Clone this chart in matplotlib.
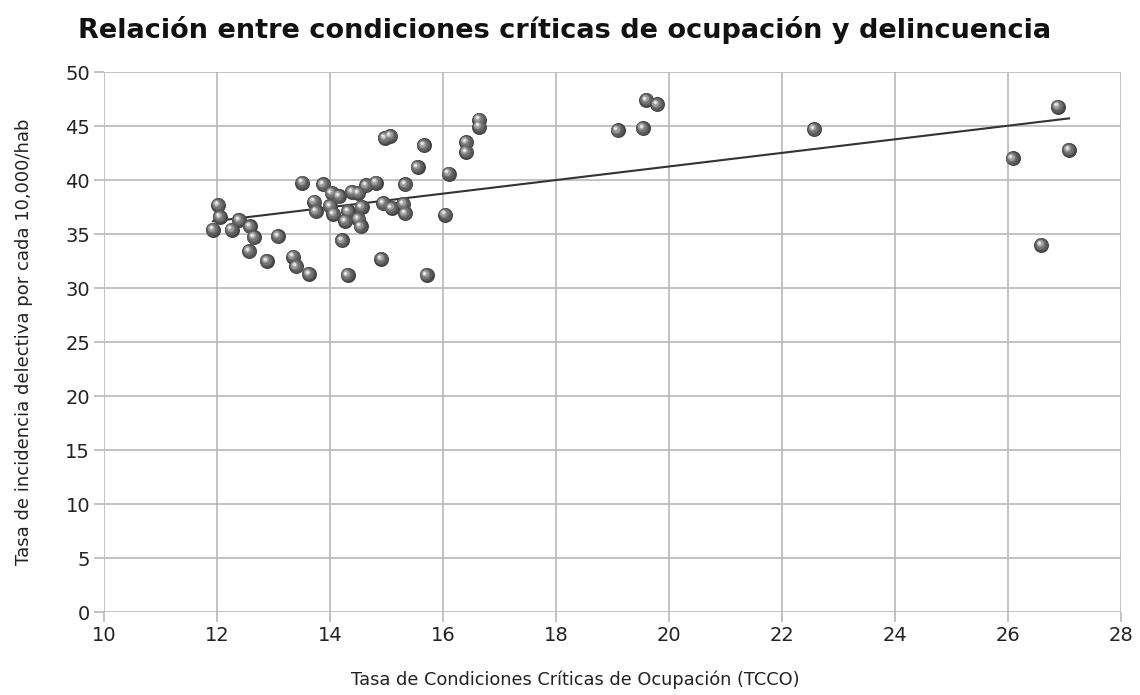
import numpy as np
import matplotlib
matplotlib.use("Agg")
import matplotlib.pyplot as plt
from matplotlib.transforms import offset_copy

# ---- data ----
tcco = [11.93, 12.02, 12.05, 12.26, 12.39, 12.58, 12.65, 12.57, 13.08, 12.88,
        13.35, 13.40, 13.63, 13.51, 13.88, 14.03, 14.16, 14.39, 14.50, 14.64,
        14.81, 15.33, 13.72, 13.75, 14.00, 14.06, 14.32, 14.27, 14.56, 14.50,
        14.54, 14.94, 15.09, 15.30, 15.33, 14.21, 14.91, 14.31, 15.71, 16.04,
        16.10, 15.55, 16.41, 16.41, 15.66, 14.97, 15.07, 16.64, 16.64, 19.09,
        19.54, 19.60, 19.79, 22.57, 26.08, 26.88, 27.08, 26.59]
incidencia = [35.4, 37.7, 36.6, 35.4, 36.3, 35.7, 34.7, 33.4, 34.8, 32.5,
              32.9, 32.0, 31.3, 39.75, 39.6, 38.8, 38.5, 38.9, 38.8, 39.5,
              39.75, 39.6, 38.0, 37.1, 37.6, 36.85, 37.1, 36.2, 37.5, 36.4,
              35.7, 37.85, 37.4, 37.8, 36.9, 34.4, 32.7, 31.2, 31.2, 36.8,
              40.6, 41.2, 43.5, 42.6, 43.2, 43.9, 44.1, 45.6, 44.95, 44.6,
              44.8, 47.4, 47.0, 44.7, 42.0, 46.8, 42.8, 34.0]
x_ticks = [10, 12, 14, 16, 18, 20, 22, 24, 26, 28]
y_ticks = [0, 5, 10, 15, 20, 25, 30, 35, 40, 45, 50]

title = "Relación entre condiciones críticas de ocupación y delincuencia"
xlabel = "Tasa de Condiciones Críticas de Ocupación (TCCO)"
ylabel = "Tasa de incidencia delectiva por cada 10,000/hab"

plt.rcParams['font.family'] = ['DejaVu Sans']

fig = plt.figure(figsize=(11.4, 6.95), dpi=100)
ax = fig.add_axes([104/1140, 1-612/695, (1121-104)/1140, (612-72)/695])

ax.set_xlim(10, 28)
ax.set_ylim(0, 50)
ax.set_xticks(x_ticks)
ax.set_yticks(y_ticks)
for s in ax.spines.values():
    s.set_visible(False)
ax.grid(True, color='#b8b8b8', linewidth=1.2)
ax.set_axisbelow(True)
ax.tick_params(axis='both', colors='#b8b8b8', length=7, width=1.2,
               labelcolor='#222222', labelsize=14, pad=3)

x = np.array(tcco)
y = np.array(incidencia)

# trend line (least squares fit)
m, b = np.polyfit(x, y, 1)
xl = np.array([x.min(), x.max()])
ax.plot(xl, m * xl + b, color='#333333', linewidth=1.5, zorder=3)

# sphere-like markers
layers = [
    (15.0, '#444444', 0.0),
    (13.0, '#5a5a5a', -0.6),
    (10.0, '#747474', -1.2),
    (7.0, '#9c9c9c', -1.8),
    (4.0, '#d2d2d2', -2.2),
    (2.0, '#f4f4f4', -2.4),
]
for d, c, off in layers:
    tr = offset_copy(ax.transData, fig=fig, x=off, y=-off, units='dots')
    ax.scatter(x, y, s=(d * 0.72) ** 2, color=c, linewidths=0,
               transform=tr, zorder=4, clip_on=False)

fig.text(565/1140, 1-30/695, title, ha='center', va='center',
         fontsize=19.5, fontweight='bold', color='#111111')
fig.text(575/1140, 1-680/695, xlabel, ha='center', va='center',
         fontsize=12.8, color='#222222')
fig.text(24/1140, 1-342/695, ylabel, ha='center', va='center',
         rotation=90, fontsize=13, color='#222222')

fig.savefig('out.png', dpi=100, facecolor='white')
